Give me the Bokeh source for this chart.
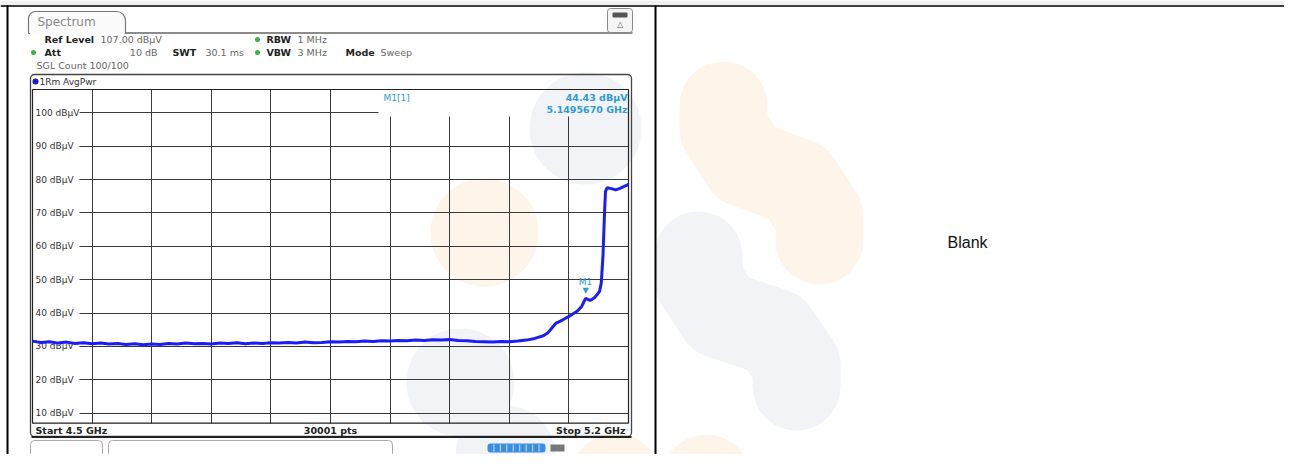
from bokeh.plotting import figure
from bokeh.models import Range1d, LinearAxis, FixedTicker, Grid
from bokeh.embed import file_html
from bokeh.resources import INLINE
from bokeh.core.properties import value

# ---------------- data ----------------
freq_ghz = [
    4.500, 4.510, 4.520, 4.530, 4.540, 4.550, 4.560, 4.570, 4.580, 4.590,
    4.600, 4.610, 4.620, 4.630, 4.640, 4.650, 4.660, 4.670, 4.680, 4.690,
    4.700, 4.710, 4.720, 4.730, 4.740, 4.750, 4.760, 4.770, 4.780, 4.790,
    4.800, 4.810, 4.820, 4.830, 4.840, 4.850, 4.860, 4.870, 4.880, 4.890,
    4.900, 4.910, 4.920, 4.930, 4.940, 4.950, 4.960, 4.970, 4.980, 4.990,
    5.000, 5.010, 5.020, 5.030, 5.040, 5.050, 5.060, 5.070, 5.080, 5.090,
    5.100, 5.105, 5.110, 5.115, 5.120, 5.125, 5.130, 5.135, 5.140, 5.145,
    5.1496, 5.155, 5.160, 5.163, 5.166, 5.168, 5.170, 5.171, 5.172, 5.173,
    5.175, 5.180, 5.185, 5.190, 5.195, 5.200,
]
level_dbuv = [
    31.6, 31.2, 31.4, 31.0, 31.3, 30.9, 31.1, 30.8, 31.0, 30.7,
    30.9, 30.6, 30.8, 30.5, 30.7, 30.6, 30.9, 30.7, 31.0, 30.8,
    30.9, 30.7, 31.0, 30.9, 31.1, 30.8, 31.0, 30.9, 31.1, 31.0,
    31.2, 31.0, 31.3, 31.1, 31.2, 31.4, 31.3, 31.5, 31.4, 31.6,
    31.5, 31.7, 31.6, 31.8, 31.7, 31.9, 31.8, 32.0, 31.9, 32.1,
    31.8, 31.7, 31.5, 31.4, 31.3, 31.5, 31.4, 31.6, 31.9, 32.4,
    33.2, 34.0, 35.5, 37.0, 37.6, 38.3, 39.0, 39.8, 40.6, 42.0,
    44.43, 43.8, 44.6, 45.5, 46.5, 49.0, 57.0, 64.0, 71.0, 76.5,
    77.6, 77.3, 76.9, 77.4, 78.0, 78.6,
]
level_ticks = [10, 20, 30, 40, 50, 60, 70, 80, 90, 100]
level_unit = "dBµV"
f_start_ghz = 4.5
f_stop_ghz = 5.2
ref_level_dbuv = 107.0
db_per_div = 10.0
n_divisions = 10
marker_freq_ghz = 5.1495670
marker_level_dbuv = 44.43
sweep_points = 30001
blank_text = "Blank"

# ---------------- layout (reference pixel coordinates) ----------------
W, H = 1284, 454
PX0, PY0 = 0, 0
PX1, PY1 = PX0 + W, PY0 + H
GX0, GX1, GY0, GY1 = 32.0, 628.0, 89.0, 422.7

db_bottom = ref_level_dbuv - db_per_div * n_divisions
f_per_px = (f_stop_ghz - f_start_ghz) / (GX1 - GX0)
db_per_px = (ref_level_dbuv - db_bottom) / (GY1 - GY0)


def fx(X):
    return f_start_ghz + (X - GX0) * f_per_px


def dby(Y):
    return ref_level_dbuv - (Y - GY0) * db_per_px


p = figure(width=W, height=H, x_range=Range1d(PX0, PX1), y_range=Range1d(PY1, PY0),
           min_border=0, toolbar_location=None, output_backend="svg",
           x_axis_type=None, y_axis_type=None, outline_line_color=None,
           background_fill_color="white", border_fill_color="white")
p.extra_x_ranges = {"f": Range1d(fx(PX0), fx(PX1))}
p.extra_y_ranges = {"db": Range1d(dby(PY1), dby(PY0))}

FONT = "DejaVu Sans"


def txt(x, y, s, size=9.5, color="#333333", bold=False, align="left",
        baseline="middle", font=FONT):
    p.text(x=[x], y=[y], text=[s], text_font=value(font),
           text_font_size=f"{size}px", text_color=color,
           text_font_style="bold" if bold else "normal",
           text_align=align, text_baseline=baseline)


# ---------------- faint watermark logo ----------------
ORANGE = "#fdf4ea"
GREY = "#f2f3f7"
blobs = [
    (585, 128, 112, GREY), (484, 232, 108, ORANGE), (460, 382, 108, GREY),
    (505, 455, 100, GREY), (615, 478, 90, ORANGE), (706, 478, 88, ORANGE),
]
for bx, by, bs, bc in blobs:
    p.scatter(x=[bx], y=[by], size=bs, marker="circle", fill_color=bc,
              line_color=None, level="image")
# S-shaped logo pieces in the right cell
for xs, ys, c in [([723, 723, 745, 797, 819, 819], [105, 128, 163, 182, 216, 240], ORANGE),
                  ([698, 698, 720, 774, 796, 796], [255, 280, 314, 332, 364, 386], GREY)]:
    p.line(xs, ys, line_color=c, line_width=88, line_cap="round",
           line_join="round", level="image")

# ---------------- table borders ----------------
p.quad(left=[PX0], right=[PX1], top=[PY0], bottom=[5], fill_color="#efefef",
       line_color=None)
p.line([PX0, PX1], [5.5, 5.5], line_color="black", line_width=1.6)
p.line([7, 7], [5, PY1], line_color="black", line_width=2)
p.line([655, 655], [5, PY1], line_color="black", line_width=2)
txt(947, 242, blank_text, size=16, color="#111111", font="Liberation Sans")

# ---------------- analyzer header ----------------
p.quad(left=[28], right=[125], top=[11], bottom=[33], fill_color="#fbfbfb",
       line_color="#777777", line_width=1.2, border_radius=(7, 9, 0, 0))
p.line([125, 632], [32.5, 32.5], line_color="#666666", line_width=1.5)
p.line([29.5, 124], [33, 33], line_color="#fbfbfb", line_width=2)
txt(37, 21, "Spectrum", size=12, color="#888888")

p.quad(left=[607], right=[632], top=[8], bottom=[32], fill_color="#f4f4f4",
       line_color="#888888", line_width=1, border_radius=3)
p.quad(left=[612], right=[627], top=[12], bottom=[17], fill_color="#555555",
       line_color=None, border_radius=1)
txt(619.5, 24, "△", size=8, color="#555555", align="center")

GREEN = "#3cb043"
R1, R2, R3 = 39, 52, 65
txt(44, R1, "Ref Level", bold=True, color="#222222")
txt(100, R1, f"{ref_level_dbuv:.2f} {level_unit}", color="#666666")
p.scatter(x=[257, 257, 33], y=[R1, R2, R2], size=5, marker="circle",
          fill_color=GREEN, line_color=None)
txt(266, R1, "RBW", bold=True, color="#222222")
txt(297, R1, "1 MHz", color="#666666")
txt(44, R2, "Att", bold=True, color="#222222")
txt(157, R2, "10 dB", color="#666666", align="right")
txt(172, R2, "SWT", bold=True, color="#222222")
txt(205, R2, "30.1 ms", color="#666666")
txt(266, R2, "VBW", bold=True, color="#222222")
txt(297, R2, "3 MHz", color="#666666")
txt(345, R2, "Mode", bold=True, color="#222222")
txt(380, R2, "Sweep", color="#666666")
txt(36, R3, "SGL Count 100/100", color="#666666")

# ---------------- graph frame ----------------
p.quad(left=[30], right=[631], top=[74], bottom=[436], fill_alpha=0,
       line_color="#444444", line_width=1.3, border_radius=4)
p.line([31, 631], [436.5, 436.5], line_color="#222222", line_width=2)
p.scatter(x=[35], y=[81], size=6, marker="circle", fill_color="#1a1acc",
          line_color=None)
txt(39, 81, "1Rm AvgPwr", size=9, color="#333333")

# bottom status row
p.quad(left=[30, 108], right=[102, 392], top=[440, 440], bottom=[457, 457],
       fill_alpha=0, line_color="#aaaaaa", line_width=1, border_radius=4)
p.quad(left=[487], right=[545], top=[443], bottom=[452], fill_color="#3a8ee6",
       line_color=None, border_radius=3)
for i in range(1, 9):
    xb = 487 + i * 58 / 9
    p.line([xb, xb], [444, 451], line_color="#cfe3fa", line_width=1)
p.quad(left=[550], right=[564], top=[444], bottom=[451], fill_color="#555555",
       line_color=None, fill_alpha=0.8)

# ---------------- spectrum grid & axis ----------------
div_ticks = [f_start_ghz + i * (f_stop_ghz - f_start_ghz) / n_divisions
             for i in range(1, n_divisions)]
GRID = "#3a3a3a"


def add_grid(dim, ticks, cross):
    g = Grid(dimension=dim, ticker=FixedTicker(ticks=ticks), x_range_name="f",
             y_range_name="db", cross_bounds=cross, grid_line_color=GRID,
             grid_line_width=1)
    p.add_layout(g)


info_bottom_db = dby(116)
add_grid(0, div_ticks[:5], (db_bottom, ref_level_dbuv))
add_grid(0, div_ticks[5:], (db_bottom, info_bottom_db))
add_grid(1, [t for t in level_ticks if t < 100], (fx(79), f_stop_ghz))
add_grid(1, [100], (fx(79), fx(378)))

p.quad(left=[f_start_ghz], right=[f_stop_ghz], top=[ref_level_dbuv],
       bottom=[db_bottom], x_range_name="f", y_range_name="db",
       fill_alpha=0, line_color="#222222", line_width=1.2)

yax = LinearAxis(x_range_name="f", y_range_name="db", fixed_location=f_start_ghz,
                 ticker=FixedTicker(ticks=level_ticks),
                 major_label_overrides={t: f"{t} {level_unit}" for t in level_ticks},
                 axis_line_color=None, major_tick_line_color=None,
                 minor_tick_line_color=None, major_tick_in=0, major_tick_out=0,
                 minor_tick_in=0, minor_tick_out=0, major_label_standoff=3,
                 major_label_text_font=FONT, major_label_text_font_size="9px",
                 major_label_text_color="#333333")
yax.level = "underlay"
p.add_layout(yax, "right")

# bottom bar texts
txt(35, 429.5, f"Start {f_start_ghz:g} GHz", bold=True, color="#222222")
txt((GX0 + GX1) / 2, 429.5, f"{sweep_points} pts", bold=True, color="#222222",
    align="center")
txt(625, 429.5, f"Stop {f_stop_ghz:g} GHz", bold=True, color="#222222",
    align="right")

# ---------------- trace ----------------
p.line(freq_ghz, level_dbuv, x_range_name="f", y_range_name="db",
       line_color="#1c1cf5", line_width=3)

# ---------------- marker ----------------
MK = "#2e9bd6"
p.text(x=[marker_freq_ghz], y=[marker_level_dbuv], text=["▼"],
       x_range_name="f", y_range_name="db", y_offset=-3,
       text_align="center", text_baseline="bottom", text_font=value(FONT),
       text_font_size="8px", text_color=MK)
p.text(x=[marker_freq_ghz], y=[marker_level_dbuv], text=["M1"],
       x_range_name="f", y_range_name="db", y_offset=-11,
       text_align="center", text_baseline="bottom", text_font=value(FONT),
       text_font_size="9px", text_color=MK)
txt(383, 97, "M1[1]", size=9, color=MK)
txt(627, 97, f"{marker_level_dbuv:.2f} {level_unit}", size=9.5, color=MK,
    bold=True, align="right")
txt(627, 109, f"{marker_freq_ghz:.7f} GHz", size=9.5, color=MK, bold=True,
    align="right")

open("out.html", "w").write(file_html(p, INLINE))
